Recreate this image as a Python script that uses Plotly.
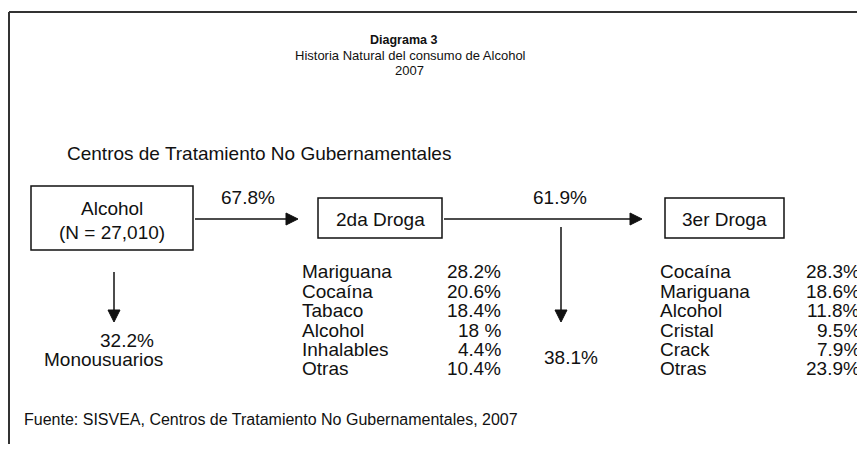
import plotly.graph_objects as go

# ---- data ----
titulo = ["Diagrama 3", "Historia Natural del consumo de Alcohol", "2007"]
subtitulo = "Centros de Tratamiento No Gubernamentales"
fuente = "Fuente: SISVEA, Centros de Tratamiento No Gubernamentales, 2007"

nodo_alcohol = ["Alcohol", "(N = 27,010)"]
nodo_2da = "2da Droga"
nodo_3er = "3er Droga"

pct_a_2da = "67.8%"
pct_mono = "32.2%"
lbl_mono = "Monousuarios"
pct_a_3er = "61.9%"
pct_sin_3er = "38.1%"

segunda_labels = ["Mariguana", "Cocaína", "Tabaco", "Alcohol", "Inhalables", "Otras"]
segunda_values = ["28.2%", "20.6%", "18.4%", "18 %", "4.4%", "10.4%"]
tercera_labels = ["Cocaína", "Mariguana", "Alcohol", "Cristal", "Crack", "Otras"]
tercera_values = ["28.3%", "18.6%", "11.8%", "9.5%", "7.9%", "23.9%"]

# ---- figure ----
# page body has an 8px margin: map axis units to window pixels
OFF = 8
WIN_W, WIN_H = 865, 452
FIG_W, FIG_H = WIN_W - OFF, WIN_H - 2 * OFF
FONT = "Liberation Sans, Arial, Helvetica, sans-serif"
INK = "#111111"

fig = go.Figure()
shapes = []
ann = []


def text(x, y, s, size=19, xanchor="center", bold=False):
    ann.append(dict(x=x, y=y, xref="x", yref="y", text=("<b>%s</b>" % s) if bold else s,
                    showarrow=False, xanchor=xanchor, yanchor="middle",
                    font=dict(family=FONT, size=size, color=INK)))


def box(x0, y0, x1, y1):
    shapes.append(dict(type="rect", xref="x", yref="y", x0=x0, y0=y0, x1=x1, y1=y1,
                       line=dict(color=INK, width=1.5), fillcolor="rgba(0,0,0,0)"))


def arrow(x0, y0, x1, y1, head=12, half=6):
    if y0 == y1:
        bx = x1 - head if x1 > x0 else x1 + head
        shapes.append(dict(type="line", xref="x", yref="y", x0=x0, y0=y0, x1=bx, y1=y1,
                           line=dict(color=INK, width=1.5)))
        path = "M %s,%s L %s,%s L %s,%s Z" % (x1, y1, bx, y1 - half, bx, y1 + half)
    else:
        by = y1 - head if y1 > y0 else y1 + head
        shapes.append(dict(type="line", xref="x", yref="y", x0=x0, y0=y0, x1=x1, y1=by,
                           line=dict(color=INK, width=1.5)))
        path = "M %s,%s L %s,%s L %s,%s Z" % (x1, y1, x1 - half, by, x1 + half, by)
    shapes.append(dict(type="path", xref="x", yref="y", path=path,
                       fillcolor=INK, line=dict(color=INK, width=1)))


# outer frame (top and left edges visible)
shapes.append(dict(type="line", xref="x", yref="y", x0=9, y0=12, x1=WIN_W, y1=12,
                   line=dict(color="#333333", width=2)))
shapes.append(dict(type="line", xref="x", yref="y", x0=9, y0=12, x1=9, y1=WIN_H,
                   line=dict(color="#333333", width=2)))

# title
text(403, 40, titulo[0], size=12.5, bold=True)
text(410, 55, titulo[1], size=13)
text(409, 70, titulo[2], size=13)

text(65, 153, subtitulo, xanchor="left")

# nodes
box(31, 186, 193, 250)
text(112, 208, nodo_alcohol[0])
text(112, 232, nodo_alcohol[1])
box(318, 198, 442, 238)
text(380, 219, nodo_2da)
box(665, 198, 784, 238)
text(724, 219, nodo_3er)

# arrows
arrow(195, 219, 298, 219)
text(248, 197, pct_a_2da)
arrow(444, 219, 642, 219)
text(560, 197, pct_a_3er)
arrow(114, 272, 114, 322)
text(127, 340, pct_mono)
text(103, 359, lbl_mono)
arrow(561, 227, 561, 322)
text(571, 357, pct_sin_3er)

# lists
row_y = [271, 291, 310, 330, 349, 368]
for lab, val, y in zip(segunda_labels, segunda_values, row_y):
    text(300, y, lab, xanchor="left")
    text(503, y, val, xanchor="right")
for lab, val, y in zip(tercera_labels, tercera_values, row_y):
    text(658, y, lab, xanchor="left")
    text(862, y, val, xanchor="right")

# source
text(22, 419, fuente, size=16, xanchor="left")

fig.update_layout(
    width=FIG_W, height=FIG_H,
    margin=dict(l=0, r=0, t=0, b=0),
    paper_bgcolor="white", plot_bgcolor="white",
    xaxis=dict(range=[OFF, OFF + FIG_W], visible=False, fixedrange=True),
    yaxis=dict(range=[OFF + FIG_H, OFF], visible=False, fixedrange=True),
    shapes=shapes, annotations=ann, showlegend=False,
)
fig.write_html("out.html")
